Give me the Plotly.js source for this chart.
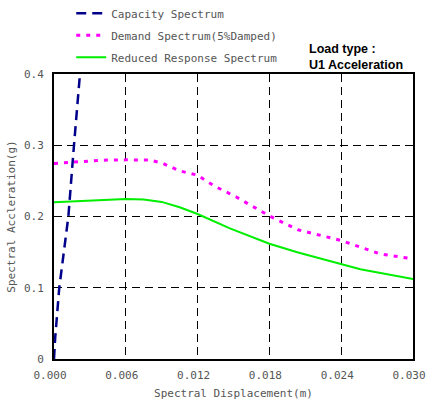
<!DOCTYPE html>
<html>
<head>
<meta charset="utf-8">
<script src="https://cdn.plot.ly/plotly-3.0.1.min.js"></script>
<style>html,body{margin:0;padding:0;background:#fff;}#chart{width:426px;height:405px;}</style>
</head>
<body>
<div id="chart"></div>
<script>
// Capacity Spectrum
const capX = [0, 0.0001, 0.00044, 0.0012, 0.00167, 0.00217];
const capY = [0, 0.03, 0.1, 0.2, 0.3, 0.4];
// Demand Spectrum (5% damped)
const demX = [0, 0.002, 0.004, 0.006, 0.008, 0.0091, 0.0105, 0.012, 0.0126, 0.0134, 0.0152, 0.0166, 0.018, 0.0204, 0.024, 0.0272, 0.030];
const demY = [0.2745, 0.277, 0.279, 0.2795, 0.2793, 0.2745, 0.264, 0.258, 0.251, 0.2427, 0.2277, 0.2137, 0.2007, 0.1813, 0.1663, 0.1477, 0.1405];
// Reduced Response Spectrum
const redX = [0, 0.003, 0.006, 0.0075, 0.009, 0.0105, 0.012, 0.0147, 0.0172, 0.018, 0.0204, 0.024, 0.0256, 0.030];
const redY = [0.2199, 0.222, 0.2245, 0.224, 0.2205, 0.213, 0.2035, 0.1834, 0.1665, 0.1617, 0.1495, 0.1327, 0.126, 0.1122];
const xTicks = [0, 0.006, 0.012, 0.018, 0.024, 0.03];
const yTicks = [0, 0.1, 0.2, 0.3, 0.4];

const mono = "DejaVu Sans Mono, monospace";
const traces = [
  {x: capX, y: capY, mode: 'lines', name: 'Capacity Spectrum', legendgroup: 'a',
   line: {color: '#00008b', width: 2.5, dash: '10px,6px'}},
  {x: demX, y: demY, mode: 'lines', name: 'Demand Spectrum(5%Damped)', legendgroup: 'b',
   line: {color: '#ff00ff', width: 3, dash: '4px,6px'}},
  {x: redX, y: redY, mode: 'lines', name: 'Reduced Response Spectrum', legendgroup: 'c',
   line: {color: '#00ee00', width: 2}}
];
const layout = {
  width: 426, height: 405,
  margin: {l: 54, r: 13, t: 74, b: 46, autoexpand: false},
  paper_bgcolor: '#fff', plot_bgcolor: '#fff',
  font: {family: mono, size: 11, color: '#555'},
  showlegend: true,
  legend: {x: 0.048, xanchor: 'left', y: 1.264, yanchor: 'top', bgcolor: 'rgba(0,0,0,0)',
    font: {family: mono, size: 11, color: '#555'}, tracegroupgap: 3},
  xaxis: {range: [0, 0.0300001], tickvals: xTicks, tickformat: '.3f', ticks: '', ticklabelstandoff: 5,
    ticklabelshift: -4, ticklabeloverflow: 'allow',
    showgrid: true, gridcolor: '#000', gridwidth: 1, griddash: '8px,5px',
    showline: true, linecolor: '#000', linewidth: 2, mirror: true, zeroline: false,
    title: {text: 'Spectral Displacement(m)', standoff: 8, font: {family: mono, size: 11, color: '#555'}},
    tickfont: {family: mono, size: 11, color: '#555'}},
  yaxis: {range: [0, 0.4], tickvals: yTicks, ticks: '', ticklabelstandoff: 6,
    showgrid: true, gridcolor: '#000', gridwidth: 1, griddash: '8px,5px',
    showline: true, linecolor: '#000', linewidth: 2, mirror: true, zeroline: false,
    title: {text: 'Spectral Accleration(g)', standoff: 6, font: {family: mono, size: 11, color: '#555'}},
    tickfont: {family: mono, size: 11, color: '#555'}},
  annotations: [{xref: 'paper', yref: 'paper', x: 0.706, y: 1.0, xanchor: 'left', yanchor: 'bottom',
    align: 'left', showarrow: false, text: 'Load type :<br>U1 Acceleration',
    font: {family: 'Liberation Sans, Arial, sans-serif', size: 12.5, color: '#000', weight: 'bold'}}]
};
Plotly.newPlot('chart', traces, layout, {displayModeBar: false, staticPlot: true});
</script>
</body>
</html>
